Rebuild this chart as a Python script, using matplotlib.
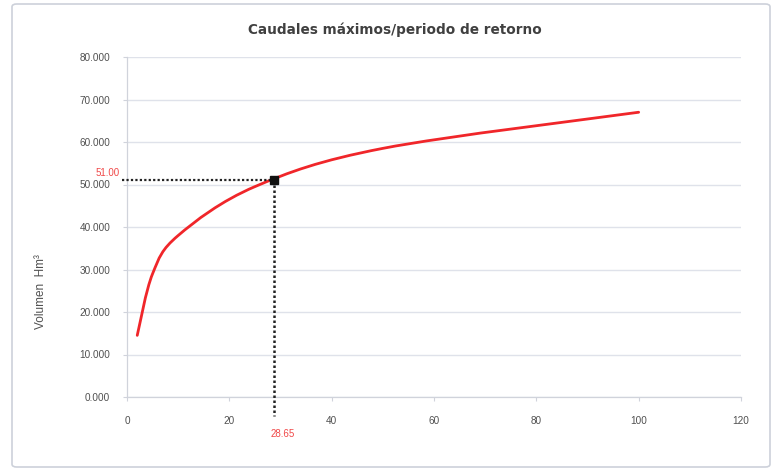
import matplotlib
matplotlib.use("Agg")
import matplotlib.pyplot as plt
from matplotlib.path import Path
from matplotlib.patches import PathPatch, FancyBboxPatch
import numpy as np

# Return period (years) and maximum volume (Hm3)
periodo = [2, 5, 10, 25, 50, 100]
volumen = [14.5, 29.0, 38.0, 49.5, 58.5, 67.0]

# Highlighted point
t_sel = 28.65
v_sel = 51.00

x_ticks = [0, 20, 40, 60, 80, 100, 120]
y_ticks = [0, 10, 20, 30, 40, 50, 60, 70, 80]

plt.rcParams['font.family'] = ['Liberation Sans', 'DejaVu Sans']

fig = plt.figure(figsize=(7.8, 4.7), dpi=100)
fig.patch.set_facecolor('white')
fig.patches.append(FancyBboxPatch((12 / 780, 3 / 470), 758 / 780, 463 / 470,
                                  boxstyle='round,pad=0,rounding_size=0.006',
                                  transform=fig.transFigure, fill=False,
                                  edgecolor='#cdd1da', linewidth=1.2))

ax = fig.add_axes([127 / 780, 73 / 470, 614 / 780, 340 / 470])
ax.set_xlim(0, 120)
ax.set_ylim(0, 80)
ax.set_xticks(x_ticks)
ax.set_yticks(y_ticks)
ax.set_xticklabels([str(v) for v in x_ticks])
ax.set_yticklabels([f'{v:.3f}' for v in y_ticks])
ax.tick_params(axis='both', labelsize=7.2, colors='#d0d3db', labelcolor='#505050',
               length=3, width=0.8)
ax.tick_params(axis='x', pad=11)
ax.tick_params(axis='y', pad=9)
ax.grid(axis='y', color='#dfe2ea', linewidth=1.0)
ax.set_axisbelow(True)
for s in ['top', 'right']:
    ax.spines[s].set_visible(False)
for s in ['left', 'bottom']:
    ax.spines[s].set_color('#d0d3db')
    ax.spines[s].set_linewidth(0.9)

# Smoothed curve (Catmull-Rom style Bezier segments through the data points)
pts = np.column_stack([periodo, volumen]).astype(float)
n = len(pts)
verts = [pts[0]]
codes = [Path.MOVETO]
for i in range(n - 1):
    p_prev = pts[i - 1] if i > 0 else pts[i]
    p_next2 = pts[i + 2] if i + 2 < n else pts[i + 1]
    c1 = pts[i] + (pts[i + 1] - p_prev) / 6.0
    c2 = pts[i + 1] - (p_next2 - pts[i]) / 6.0
    verts += [c1, c2, pts[i + 1]]
    codes += [Path.CURVE4] * 3
ax.add_patch(PathPatch(Path(verts, codes), fill=False, edgecolor='#f0262a',
                       linewidth=2.0, capstyle='round', zorder=3))

# Reference lines to the axes
ax.plot([-1, t_sel], [v_sel, v_sel], color='#222222', linestyle=(0, (1, 1)),
        linewidth=1.6, clip_on=False, zorder=4)
ax.plot([t_sel, t_sel], [v_sel, -4.5], color='#222222', linestyle=(0, (1, 1)),
        linewidth=1.8, clip_on=False, zorder=4)
ax.plot([t_sel], [v_sel], marker='s', markersize=6, color='#111111', zorder=5)

ax.text(-1.5, v_sel + 0.6, f'{v_sel:.2f}', color='#f04848', fontsize=7,
        ha='right', va='bottom')
ax.text(t_sel - 0.5, -8.6, f'{t_sel:.2f}', color='#f04848', fontsize=7,
        ha='left', va='center', clip_on=False)

ax.set_ylabel('Volumen  Hm³', fontsize=8.5, color='#505050')
ax.yaxis.set_label_coords(-0.13, 0.31)

fig.text(395 / 780, 1 - 30 / 470, 'Caudales máximos/periodo de retorno',
         ha='center', va='center', fontsize=9.8, fontweight='bold',
         color='#404040', family='DejaVu Sans')

fig.savefig('out.png', dpi=100)
